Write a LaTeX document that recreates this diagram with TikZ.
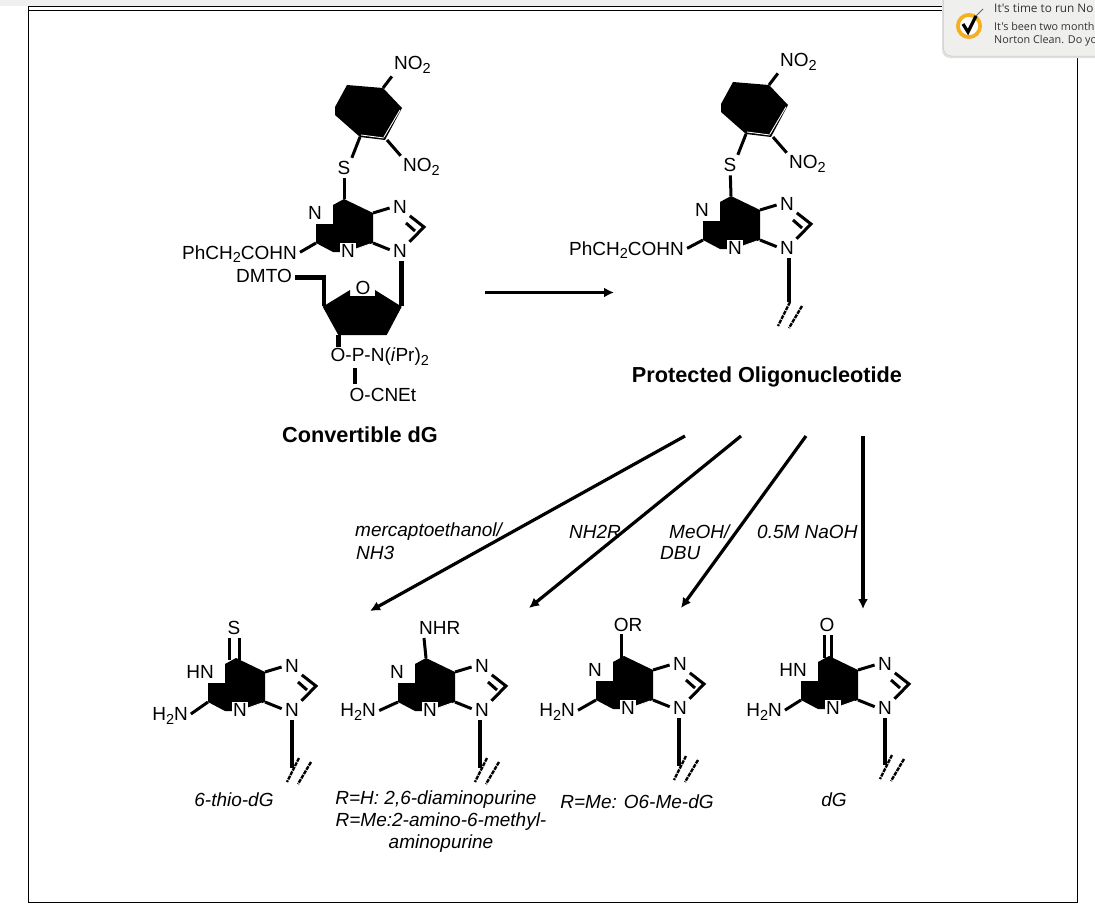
\documentclass[tikz,border=0pt]{standalone}
\usepackage{fontspec}
\setmainfont{Liberation Sans}
\newfontfamily\uifont{Open Sans}
\usetikzlibrary{arrows.meta}
\definecolor{panelgrey}{HTML}{EFEFEE}
\definecolor{ringyellow}{HTML}{F5B020}
\newcommand{\subtwo}{\raisebox{-3.5pt}{\fontsize{14.5}{14.5}\selectfont 2}}
\tikzset{
  bond/.style={line width=3pt,line cap=butt},
  heavy/.style={line width=4.6pt,line cap=butt},
  reaction/.style={line width=3.2pt,-{Latex[length=10pt,width=10pt]}},
  gapend/.style={shorten >=3.5pt},
  gapstart/.style={shorten <=3.5pt},
  atom/.style={inner sep=0pt,font=\fontsize{19}{19}\selectfont},
  bold label/.style={inner sep=0pt,font=\fontsize{21.7}{21.7}\selectfont\bfseries},
  cond/.style={inner sep=0pt,font=\fontsize{19}{22}\selectfont\itshape,align=center},
  ui/.style={inner sep=0pt,anchor=west,text=black!80},
}
% purine core: name, C6 position, ring N/HN label
\newcommand{\purinecore}[4]{%
\begin{scope}[shift={(#2,#3)},name prefix=#1-]
  \fill (0,0) -- (-11,6) -- (-11,25) -- (-28,25) -- (-28,44) -- (-11,53) -- (4,53) -- (29,44) -- (29,14) -- cycle;
  \draw[white,line width=.9pt] (12,50) -- (26,45);
  \coordinate (C6) at (0,0);
  \coordinate (C5) at (29,14);
  \coordinate (C4) at (29,44);
  \coordinate (C2) at (-28,44);
  \coordinate (C8) at (80,28);
  \node[atom] (N7) at (56,8) {N};
  \node[atom] (N9) at (56,52) {N};
  \node[atom,fill=white,inner sep=1pt] (N3) at (4,52) {N};
  \node[atom,anchor=east,fill=white,inner sep=1pt] (N1) at (-21,14) {#4};
  \draw[bond,gapend] (C5) -- (N7.west);
  \draw[bond,gapend,gapstart] (N7.south east) -- (C8) -- (N9.north east);
  \draw[bond] (62,24) -- (71,32);
  \draw[bond,gapend] (C4) -- (N9.west);
\end{scope}}
% hash marks ending a chain
\newcommand{\hashmarks}[3]{%
\begin{scope}[shift={(#2,#3)},name prefix=#1-]
  \coordinate (H1a) at (7,-10); \coordinate (H1b) at (-5,14);
  \coordinate (H2a) at (19,-6); \coordinate (H2b) at (6,16);
  \draw[line width=2.4pt,dash pattern=on 4pt off 1pt] (H1a) -- (H1b);
  \draw[line width=2.4pt,dash pattern=on 4pt off 1pt] (H2a) -- (H2b);
\end{scope}}
% dinitrophenyl
\newcommand{\dinitro}[3]{%
\begin{scope}[shift={(#2,#3)},name prefix=#1-]
  \fill (347,85) -- (383,88) -- (402,108) -- (385,140) -- (360,137) -- (335,115) -- (335,107) -- cycle;
  \draw[white,line width=.9pt] (400,110) -- (384,137) (361,135) -- (384,138);
  \coordinate (Ca) at (383,88);
  \coordinate (Cb) at (387,140);
  \coordinate (Cc) at (360,137);
  \node[atom,anchor=west] (NOa) at (394,65) {NO\subtwo};
  \node[atom,anchor=west] (NOb) at (403,167) {NO\subtwo};
  \node[atom] (S) at (344,168) {S};
  \draw[bond,gapend] (Ca) -- (NOa.south west);
  \draw[bond,gapend] (Cb) -- (NOb.north west);
  \draw[bond,gapend] (Cc) -- (S.north east);
\end{scope}}
\begin{document}
\begin{tikzpicture}[x=1pt,y=-1pt]
\useasboundingbox (0,0) rectangle (1095,913);
\fill[white] (0,0) rectangle (1095,913);
\fill[black!6] (0,0) rectangle (1095,5.5);
% page frame
\coordinate (ftl) at (28,10);
\coordinate (fbr) at (1077,902);
\draw[line width=1pt] (ftl) rectangle (fbr);
\draw[line width=1pt] (28,6.5) -- (945,6.5) (28,6.5) -- (28,10);
% left structure
\dinitro{dl}{0}{0}
\purinecore{pl}{344}{199}{N}
\draw[bond,gapstart] (dl-S) -- (pl-C6);
\node[atom,anchor=east] (plamine) at (297,254) {PhCH\subtwo COHN};
\draw[bond,gapend] (pl-C2) -- (plamine.east);
% sugar
\fill (322.7,306.7) -- (350,290) -- (350,296) -- (375,296) -- (375,290) -- (401.7,306.7) -- (386.7,335) -- (338.3,335) -- cycle;
\coordinate (sugC5) at (324,306);
\coordinate (sugC1) at (401.7,306);
\coordinate (sugC3) at (338.3,335);
\coordinate (dmtoc) at (324,277.3);
\node[atom] (sugO) at (363,288) {O};
\node[atom,anchor=east] (dmto) at (292,276) {DMTO};
\node[atom,anchor=west] (phos) at (330.5,357) {O-P-N(\textit{i}Pr)\subtwo};
\node[atom,anchor=west] (cnet) at (349.5,395) {O-CNEt};
\coordinate (phosP) at (355,368);
\coordinate (cnetO) at (355,384);
\coordinate (phosO) at (338.3,347);
\draw[heavy] (dmto.east) ++(3,1.3) -- (dmtoc) -- (sugC5);
\draw[heavy,gapstart] (pl-N9.south) ++(1.7,0) -- (sugC1);
\draw[heavy] (sugC3) -- (phosO);
\draw[heavy] (phosP) -- (cnetO);
\node[bold label] (lbl1) at (360,435) {Convertible dG};
% right structure
\dinitro{dr}{386}{-3}
\purinecore{pr}{731}{196}{N}
\draw[bond,gapstart] (dr-S) -- (pr-C6);
\node[atom,anchor=east] (pramine) at (684,250) {PhCH\subtwo COHN};
\draw[bond,gapend] (pr-C2) -- (pramine.east);
\coordinate (prend) at (789,302);
\draw[heavy,gapstart] (pr-N9.south) ++(2,0) -- (prend);
\hashmarks{hr}{783}{312}
\node[bold label] (lbl2) at (767,376.5) {Protected Oligonucleotide};
% reaction arrows
\coordinate (a0) at (485,292.5); \coordinate (a1) at (614,292.5);
\draw[reaction] (a0) -- (a1);
\coordinate (r1a) at (685,436); \coordinate (r1b) at (370,611);
\coordinate (r2a) at (741,436); \coordinate (r2b) at (529,608);
\coordinate (r3a) at (806,436); \coordinate (r3b) at (681,608);
\coordinate (r4a) at (863,436); \coordinate (r4b) at (863,609);
\draw[reaction] (r1a) -- (r1b);
\draw[reaction] (r2a) -- (r2b);
\draw[reaction] (r3a) -- (r3b);
\draw[reaction] (r4a) -- (r4b);
\node[cond,anchor=west] (c1a) at (355,532) {mercaptoethanol/};
\node[cond,anchor=west] (c1b) at (356,553) {NH3};
\node[cond,anchor=west] (c2) at (569,532) {NH2R};
\node[cond,anchor=west] (c3a) at (669,532) {MeOH/};
\node[cond,anchor=west] (c3b) at (660,553) {DBU};
\node[cond,anchor=west] (c4) at (757,532) {0.5M NaOH};
% product 1
\purinecore{p1}{236}{658}{HN}
\node[atom] (p1S) at (234,628) {S};
\draw[bond] (229,638) -- (229,660) (239,638) -- (239,660);
\node[atom,anchor=east] (p1am) at (188,716) {H\subtwo N};
\draw[bond,gapend] (p1-C2) -- (p1am.east);
\coordinate (p1end) at (292,768);
\draw[heavy,gapstart] (p1-N9.south) -- (p1end);
\hashmarks{h1}{292}{768}
\node[cond] (t1) at (234,800) {6-thio-dG};
% product 2
\purinecore{p2}{426}{658}{N}
\node[atom,anchor=west] (p2R) at (419,628) {NHR};
\draw[bond] (424,638) -- (p2-C6);
\node[atom,anchor=east] (p2am) at (376,712) {H\subtwo N};
\draw[bond,gapend] (p2-C2) -- (p2am.east);
\coordinate (p2end) at (480,768);
\draw[heavy,gapstart] (p2-N9.south) ++(-2,0) -- (p2end);
\hashmarks{h2}{480}{768}
\node[cond] (t2) at (436,800) {R=H: 2,6-diaminopurine};
\node[cond] (t3) at (441,822) {R=Me:2-amino-6-methyl-};
\node[cond] (t4) at (441,844) {aminopurine};
% product 3
\purinecore{p3}{624}{656}{N}
\node[atom] (p3R) at (628,625) {OR};
\draw[bond] (621,634) -- (621,658);
\node[atom,anchor=east] (p3am) at (575,712) {H\subtwo N};
\draw[bond,gapend] (p3-C2) -- (p3am.east);
\coordinate (p3end) at (679,766);
\draw[heavy,gapstart] (p3-N9.south) ++(-1,0) -- (p3end);
\hashmarks{h3}{679}{766}
\node[cond] (t5) at (637,802) {R=Me: O6-Me-dG};
% product 4
\purinecore{p4}{829}{656}{HN}
\node[atom] (p4O) at (827,625) {O};
\draw[bond] (824,635) -- (824,658) (831,635) -- (831,658);
\node[atom,anchor=east] (p4am) at (782,712) {H\subtwo N};
\draw[bond,gapend] (p4-C2) -- (p4am.east);
\coordinate (p4end) at (885,765);
\draw[heavy,gapstart] (p4-N9.south) -- (p4end);
\hashmarks{h4}{885}{765}
\node[cond] (t6) at (834,800) {dG};
% notification
\begin{scope}
\clip (0,0) rectangle (1095,913);
\fill[black!12,rounded corners=8pt] (942,-10) rectangle (1110,58);
\fill[panelgrey,rounded corners=8pt,draw=black!20,line width=.5pt] (943.5,-10) rectangle (1110,56);
\draw[ringyellow,line width=4pt] (969,26) circle (11);
\fill[white] (969,26) circle (9);
\draw[black,line width=3.2pt] (963,24) -- (968,32) -- (976,16);
\draw[black!60,line width=1pt] (976,16) -- (983,9);
\end{scope}
\node[ui,font=\uifont\fontsize{11.8}{12}\selectfont] (n1) at (994,8.5) {It's time to run No};
\node[ui,font=\uifont\fontsize{10.8}{11}\selectfont] (n2) at (994,26.5) {It's been two month};
\node[ui,font=\uifont\fontsize{10.8}{11}\selectfont] (n3) at (994,40.5) {Norton Clean. Do yo};
\end{tikzpicture}
\end{document}
